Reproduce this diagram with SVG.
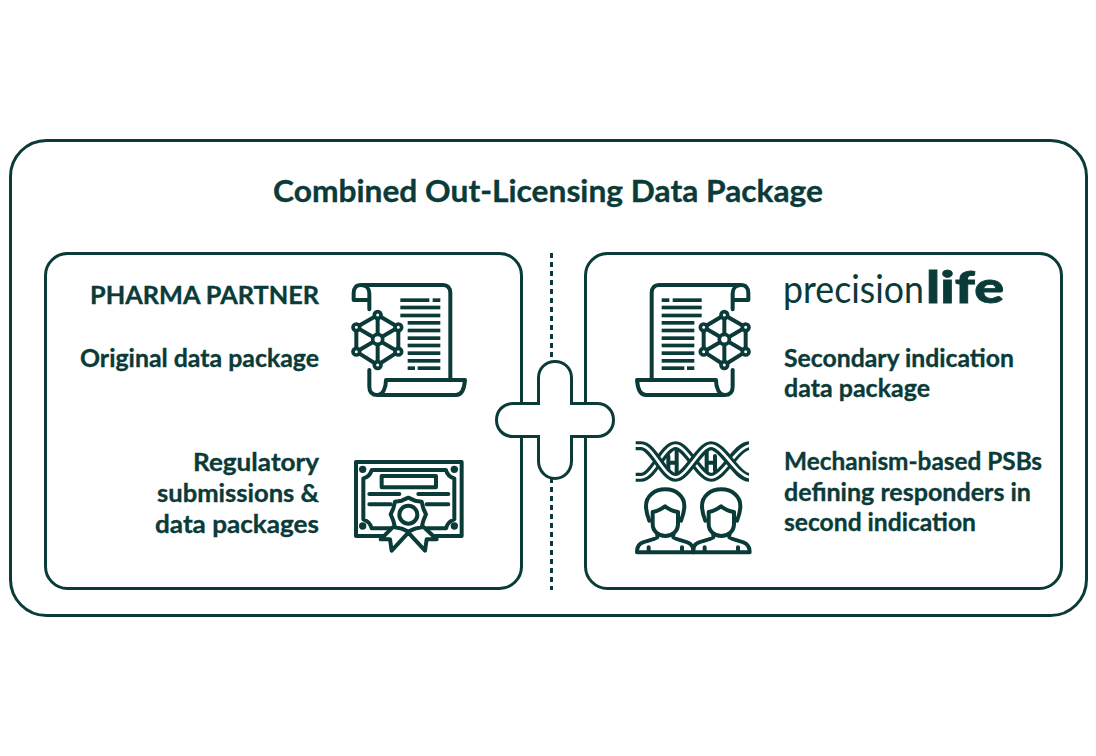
<svg xmlns="http://www.w3.org/2000/svg" xmlns:xlink="http://www.w3.org/1999/xlink" width="1096" height="756" viewBox="0 0 1096 756">
<style>
  text { font-family: "Lato", "Open Sans", sans-serif; font-weight: 700; fill: #0a3b39; stroke: #0a3b39; stroke-width: .35px; font-size: 25px; }
  .frame { fill: #fff; stroke: #0a3b39; stroke-width: 3; }
  .ico { fill: none; stroke: #0a3b39; stroke-width: 12; stroke-linecap: round; stroke-linejoin: round; }
  .bar { fill: #0a3b39; }
  .knot { fill: #fff; stroke: #0a3b39; stroke-width: 11; }
</style>
<defs>
  <!-- Scroll with network glyph, drawn at 3x and scaled down where used -->
  <g id="scroll">
    <path class="ico" d="M85 118V70C85 55 75 45 60 45C45 45 38 55 38 68V90H85M60 45H305C320 45 328 55 328 68V325"/>
    <path class="ico" d="M85 300V350C85 367 95 375 110 375H345C362 375 370 355 372 330H135C135 355 125 375 110 375"/>
    <g class="bar">
      <rect x="178" y="85" width="87" height="11"/><rect x="275" y="85" width="23" height="11"/>
      <rect x="178" y="107" width="120" height="11"/><rect x="178" y="131" width="120" height="11"/>
      <rect x="200" y="153" width="98" height="11"/><rect x="200" y="176" width="98" height="11"/>
      <rect x="200" y="199" width="98" height="11"/><rect x="200" y="221" width="98" height="11"/>
      <rect x="200" y="244" width="98" height="11"/><rect x="200" y="267" width="98" height="11"/>
      <rect x="200" y="289" width="22" height="11"/><rect x="230" y="289" width="68" height="11"/>
    </g>
    <path class="ico" d="M110 135L172 172V245L110 285L46 245V172ZM110 135V285M46 172L172 245M172 172L46 245"/>
    <g class="knot">
      <circle cx="110" cy="135" r="10"/><circle cx="172" cy="172" r="10"/><circle cx="172" cy="245" r="10"/>
      <circle cx="110" cy="285" r="10"/><circle cx="46" cy="245" r="10"/><circle cx="46" cy="172" r="10"/>
      <circle cx="110" cy="208" r="15"/>
    </g>
  </g>
  <!-- Single head-and-shoulders figure -->
  <g id="person">
    <path class="ico" d="M40 272C32 252 30 240 30 228C30 198 55 178 88 178C120 178 145 198 145 228C145 240 143 252 135 272"/>
    <path class="ico" d="M50 282V246C65 244 75 238 87 229C100 239 112 244 126 246V282C126 304 108 318 88 318C68 318 50 304 50 282Z"/>
    <path class="ico" d="M64 312V322C48 332 25 332 12 342C5 348 3 356 3 367H173C173 356 170 348 163 342C150 332 128 332 112 322V312"/>
    <path class="ico" d="M38 352V366M138 352V366"/>
  </g>
</defs>

<rect width="1096" height="756" fill="#fff"/>
<rect id="outer-frame" class="frame" x="10.500" y="140.500" width="1076" height="475" rx="36"/>
<text x="273" y="202" style="font-size:31px" textLength="550" lengthAdjust="spacingAndGlyphs">Combined Out-Licensing Data Package</text>

<g id="pharma-panel">
  <rect class="frame" x="45.500" y="253.500" width="476" height="335" rx="22"/>
  <text x="90" y="304" textLength="229" lengthAdjust="spacingAndGlyphs">PHARMA PARTNER</text>
  <text x="80" y="367" textLength="239" lengthAdjust="spacingAndGlyphs">Original data package</text>
  <text x="193" y="471" textLength="126" lengthAdjust="spacingAndGlyphs">Regulatory</text>
  <text x="157" y="502" textLength="162" lengthAdjust="spacingAndGlyphs">submissions &amp;</text>
  <text x="155" y="533" textLength="164" lengthAdjust="spacingAndGlyphs">data packages</text>
  <use xlink:href="#scroll" href="#scroll" transform="translate(341 270) scale(.3333)"/>
  <g id="certificate" transform="translate(340 450) scale(.3333)">
    <path class="ico" d="M130 258H48V36H365V258H285"/>
    <path class="ico" d="M150 235H95C92 222 82 212 70 208V85C82 82 92 72 95 60H318C321 72 331 82 343 85V208C331 212 321 222 318 235H262"/>
    <circle class="bar" cx="68" cy="58" r="11"/><circle class="bar" cx="343" cy="58" r="11"/>
    <circle class="bar" cx="68" cy="228" r="11"/><circle class="bar" cx="343" cy="228" r="11"/>
    <rect class="ico" x="125" y="78" width="163" height="34"/>
    <path class="ico" d="M88 132H178M235 132H325M88 163H152M260 163H325"/>
    <path class="ico" d="M205 143L225 152L245 155L250 175L258 193L250 212L245 232L225 236L205 245L185 236L165 232L160 212L152 193L160 175L165 155L185 152Z"/>
    <circle class="ico" cx="205" cy="194" r="27"/>
    <path class="ico" d="M158 232L122 268H150L155 302L205 248L255 302L260 268H290L252 232"/>
  </g>
</g>

<g id="precisionlife-panel">
  <rect class="frame" x="585.500" y="253.500" width="476" height="335" rx="22"/>
  <text transform="translate(783 303) scale(1 1.08)" style="font-size:36px;font-weight:400;stroke:none" textLength="141" lengthAdjust="spacingAndGlyphs">precision</text>
  <text x="926" y="303" style="font-size:44px;font-weight:900;stroke-width:.8px" textLength="78" lengthAdjust="spacingAndGlyphs">life</text>
  <text x="784" y="367" textLength="230" lengthAdjust="spacingAndGlyphs">Secondary indication</text>
  <text x="784" y="397" textLength="146" lengthAdjust="spacingAndGlyphs">data package</text>
  <text x="784" y="470" textLength="258" lengthAdjust="spacingAndGlyphs">Mechanism-based PSBs</text>
  <text x="784" y="501" textLength="247" lengthAdjust="spacingAndGlyphs">defining responders in</text>
  <text x="784" y="531" textLength="192" lengthAdjust="spacingAndGlyphs">second indication</text>
  <use xlink:href="#scroll" href="#scroll" transform="translate(761 270) scale(-.3333 .3333)"/>
  <g id="dna" transform="translate(625 430) scale(.3333)">
    <path class="ico" d="M130 78V122M155 62V132M245 62V130M270 78V122M130 98H155M245 98H270" stroke-linecap="butt"/>
    <g fill="none">
      <path stroke="#0a3b39" stroke-width="27" d="M32 142H48C85 142 115 47 152 47C185 47 225 142 258 142C295 142 335 47 372 47"/>
      <path stroke="#fff" stroke-width="8" d="M26 142H48C85 142 115 47 152 47C185 47 225 142 258 142C295 142 335 47 378 47"/>
      <path stroke="#0a3b39" stroke-width="27" d="M32 47H48C85 47 115 142 152 142C185 142 225 47 258 47C295 47 335 142 372 142"/>
      <path stroke="#fff" stroke-width="8" d="M26 47H48C85 47 115 142 152 142C185 142 225 47 258 47C295 47 335 142 378 142"/>
    </g>
  </g>
  <use xlink:href="#person" href="#person" transform="translate(636 430) scale(.3333)"/>
  <use xlink:href="#person" href="#person" transform="translate(692 430) scale(.3333)"/>
</g>

<g id="connectors">
  <path d="M551.500 253V361M551.500 478V590" fill="none" stroke="#0a3b39" stroke-width="3" stroke-dasharray="5 4"/>
</g>

<g id="plus">
  <path class="frame" d="M538.500 403.500V378C538.500 368 546 361.500 555 361.500C564 361.500 571.500 368 571.500 378V403.500H597C607 403.500 613.500 411 613.500 420C613.500 429 607 436.500 597 436.500H571.500V461C571.500 471 564 478.500 555 478.500C546 478.500 538.500 471 538.500 461V436.500H513C503 436.500 496.500 429 496.500 420C496.500 411 503 403.500 513 403.500Z"/>
</g>
</svg>
